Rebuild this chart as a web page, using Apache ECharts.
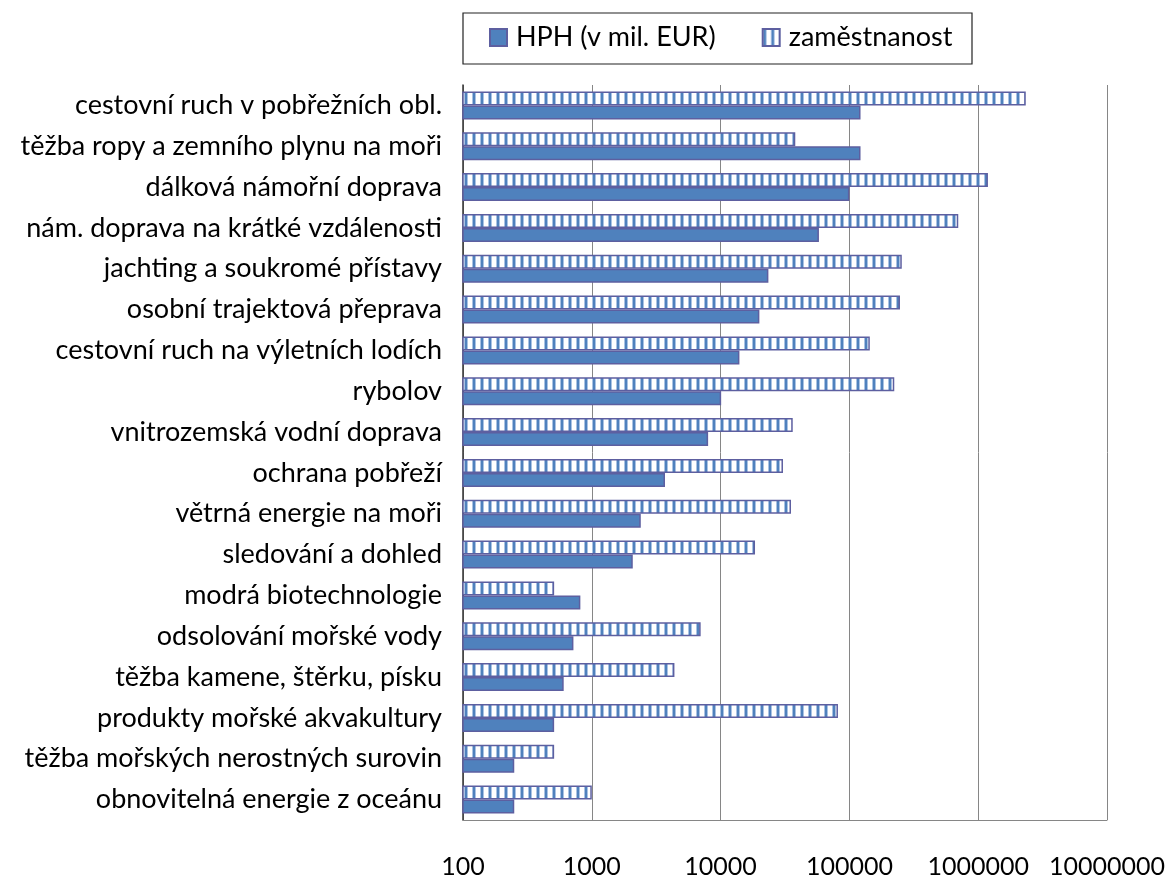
<!DOCTYPE html>
<html>
<head>
<meta charset="utf-8">
<script src="https://cdn.jsdelivr.net/npm/echarts@6/dist/echarts.min.js"></script>
<style>
  html, body { margin: 0; padding: 0; background: #fff; }
  #chart { width: 1170px; height: 880px; }
</style>
</head>
<body>
<div id="chart"></div>
<script>
// kategorie (shora dolů)
const categories = [
  'cestovní ruch v pobřežních obl.',
  'těžba ropy a zemního plynu na moři',
  'dálková námořní doprava',
  'nám. doprava na krátké vzdálenosti',
  'jachting a soukromé přístavy',
  'osobní trajektová přeprava',
  'cestovní ruch na výletních lodích',
  'rybolov',
  'vnitrozemská vodní doprava',
  'ochrana pobřeží',
  'větrná energie na moři',
  'sledování a dohled',
  'modrá biotechnologie',
  'odsolování mořské vody',
  'těžba kamene, štěrku, písku',
  'produkty mořské akvakultury',
  'těžba mořských nerostných surovin',
  'obnovitelná energie z oceánu'
]

// HPH (v mil. EUR)
const hph = [122000, 122000, 100000, 58000, 23500, 20000, 14000, 10100, 8000, 3700,
  2400, 2080, 815, 720, 605, 510, 250, 250]

// zaměstnanost
const zamestnanost = [2340000, 38000, 1190000, 700000, 255000, 247000, 144000, 223000, 36300, 30500,
  35200, 18500, 510, 7000, 4380, 81500, 510, 1000]

const xTicks = [100, 1000, 10000, 100000, 1000000, 10000000]

// šrafování pro zaměstnanost (svislé pruhy)
const makeStripes = () => {
  const c = document.createElement('canvas')
  c.width = 8
  c.height = 8
  const ctx = c.getContext('2d')
  ctx.fillStyle = '#ffffff'
  ctx.fillRect(0, 0, 8, 8)
  ctx.fillStyle = '#a9c2e3'
  ctx.fillRect(0, 0, 1, 8)
  ctx.fillRect(3, 0, 1, 8)
  ctx.fillStyle = '#4f81bd'
  ctx.fillRect(1, 0, 2, 8)
  return c
}

const myChart = echarts.init(document.getElementById('chart'))
myChart.setOption({
  animation: false,
  textStyle: { fontFamily: 'Lato' },
  grid: {
    left: 463,
    right: 63,
    top: 85,
    bottom: 60,
    containLabel: false
  },
  graphic: [
    {
      type: 'rect',
      shape: { x: 463, y: 13, width: 509, height: 51 },
      style: { fill: 'none', stroke: '#222', lineWidth: 1.2 },
      silent: true
    }
  ],
  legend: {
    data: ['HPH (v mil. EUR)', 'zaměstnanost'],
    icon: 'rect',
    left: 489,
    top: 24,
    padding: 0,
    itemWidth: 17,
    itemHeight: 17,
    itemGap: 46,
    textStyle: { fontSize: 27, color: '#000', padding: [0, 0, 0, 4] }
  },
  xAxis: {
    type: 'log',
    logBase: 10,
    min: xTicks[0],
    max: xTicks[xTicks.length - 1],
    axisLine: { show: true, lineStyle: { color: '#868686' } },
    axisTick: { show: false },
    splitLine: { show: true, lineStyle: { color: '#868686', width: 1 } },
    axisLabel: {
      fontSize: 25,
      color: '#000',
      margin: 34,
      formatter: v => String(Math.round(v))
    }
  },
  yAxis: {
    type: 'category',
    inverse: true,
    data: categories,
    axisLine: { show: true, lineStyle: { color: '#333', width: 1.5 } },
    axisTick: { show: false },
    axisLabel: { fontSize: 27, color: '#000', margin: 21 }
  },
  series: [
    {
      name: 'zaměstnanost',
      type: 'bar',
      data: zamestnanost,
      barWidth: 14,
      barGap: '0%',
      itemStyle: {
        color: { image: makeStripes(), repeat: 'repeat' },
        borderColor: '#5d5fa0',
        borderWidth: 1.5
      }
    },
    {
      name: 'HPH (v mil. EUR)',
      type: 'bar',
      data: hph,
      barWidth: 14,
      barGap: '0%',
      itemStyle: {
        color: '#4f81bd',
        borderColor: '#5d5fa0',
        borderWidth: 1.5
      }
    }
  ]
})
</script>
</body>
</html>
